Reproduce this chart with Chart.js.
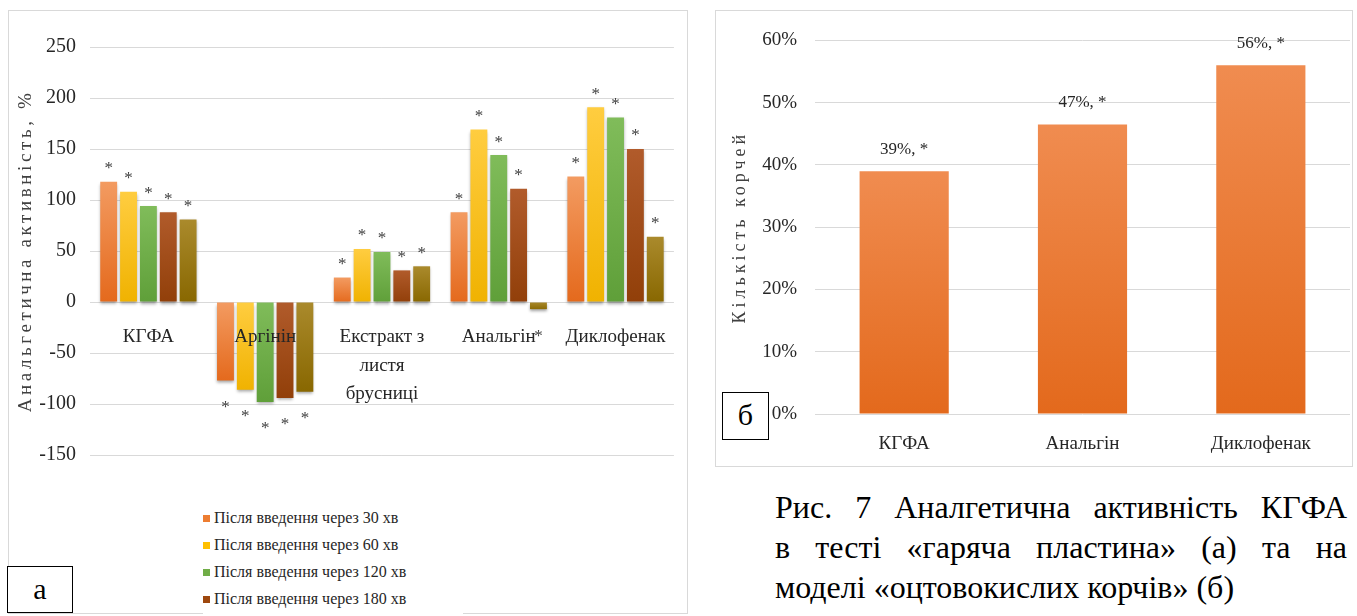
<!DOCTYPE html>
<html>
<head>
<meta charset="utf-8">
<title>Рис. 7</title>
<script src="https://cdn.jsdelivr.net/npm/chart.js@4.4.1/dist/chart.umd.min.js"></script>
<style>
  body { margin: 0; width: 1357px; height: 616px; overflow: hidden; position: relative; background: #fff;
         font-family: 'Liberation Serif', 'DejaVu Serif', serif; color: #262626; }
  .frame { position: absolute; border: 1px solid #d9d9d9; box-sizing: border-box; }
  #frameA { left: 8px; top: 10px; width: 680px; height: 604px; }
  #frameB { left: 715px; top: 10px; width: 638px; height: 457px; }
  #wrapA { position: absolute; left: 9px; top: 11px; width: 678px; height: 470px; }
  #wrapB { position: absolute; left: 716px; top: 11px; width: 636px; height: 455px; }
  #legendA { position: absolute; left: 203px; top: 504px; width: 260px; height: 140px; background: #fff; }
  .item { height: 27px; line-height: 27px; font-size: 16px; white-space: nowrap; }
  .item .box { display: inline-block; width: 7px; height: 7px; margin-right: 4px; vertical-align: 1px; }
  .tag { position: absolute; border: 1px solid #000; background: #fff; font-size: 30px; line-height: 44px;
         text-align: center; box-sizing: border-box; color: #000; }
  #caption { position: absolute; left: 775px; top: 487px; width: 572px; font-size: 32px; line-height: 40px; color: #000; }
  #caption div.j { text-align: justify; text-align-last: justify; }
</style>
</head>
<body>
<div class="frame" id="frameA"></div>
<div class="frame" id="frameB"></div>
<div id="wrapA"><canvas id="activity-chart"></canvas></div>
<div id="wrapB"><canvas id="seizure-chart"></canvas></div>
<div id="legendA"></div>
<div class="tag" style="left:7px; top:566px; width:66px; height:47px;">а</div>
<div class="tag" style="left:722px; top:392px; width:47px; height:48px;">б</div>
<div id="caption">
  <div class="j">Рис. 7 Аналгетична активність КГФА</div>
  <div class="j">в тесті «гаряча пластина» (а) та на</div>
  <div>моделі «оцтовокислих корчів» (б)</div>
</div>

<script>
// hot plate test, %
const groups = ['КГФА', 'Аргінін', ['Екстракт з', 'листя', 'брусниці'], 'Анальгін', 'Диклофенак'];
const seriesNames = [
    'Після введення через 30 хв',
    'Після введення через 60 хв',
    'Після введення через 120 хв',
    'Після введення через 180 хв',
    'Після введення через 240 хв'
];
const after30 = [118, -77, 24, 88, 123];
const after60 = [108, -86, 52, 169, 191];
const after120 = [94, -98, 49, 144, 181];
const after180 = [88, -94, 31, 111, 150];
const after240 = [81, -88, 35, -7, 64];
const activityTicks = [-150, -100, -50, 0, 50, 100, 150, 200, 250];

// acetic acid writhing test
const seizureGroups = ['КГФА', 'Анальгін', 'Диклофенак'];
const seizureShare = [0.39, 0.465, 0.56];
const seizureTicks = [0, 0.1, 0.2, 0.3, 0.4, 0.5, 0.6];

const seriesTop = ['#F39B61', '#FFCD40', '#80BC5A', '#B15B2B', '#AA8A2C'];
const seriesBottom = ['#E4691C', '#F0B200', '#5F9F39', '#913F09', '#886700'];
const seriesSolid = ['#ED7D31', '#FFC000', '#70AD47', '#9E480E', '#997300'];

const serif = "'Liberation Serif', 'DejaVu Serif', serif";
Chart.defaults.font.family = serif;
Chart.defaults.color = '#262626';

function barGradient(top, bottom) {
    return (c) => {
        const chart = c.chart;
        if (!chart.chartArea || c.type !== 'data') return top;
        const ys = chart.scales.y;
        const y1 = ys.getPixelForValue(c.raw);
        const y0 = ys.getPixelForValue(0);
        const g = chart.ctx.createLinearGradient(0, Math.min(y0, y1), 0, Math.max(y0, y1) + 1);
        g.addColorStop(0, top);
        g.addColorStop(1, bottom);
        return g;
    };
}

const sideTitle = {
    id: 'sideTitle',
    afterDraw(chart, args, opts) {
        const { ctx, chartArea } = chart;
        ctx.save();
        ctx.font = opts.font;
        ctx.fillStyle = '#404040';
        ctx.letterSpacing = opts.spacing + 'px';
        const w = ctx.measureText(opts.text).width;
        ctx.translate(opts.x, (chartArea.top + chartArea.bottom) / 2);
        ctx.rotate(-Math.PI / 2);
        ctx.textAlign = 'left';
        ctx.textBaseline = 'middle';
        ctx.fillText(opts.text, -w / 2, 0);
        ctx.restore();
    }
};

const barShadow = {
    id: 'barShadow',
    beforeDatasetDraw(chart) {
        const ctx = chart.ctx;
        ctx.save();
        ctx.shadowColor = 'rgba(0,0,0,0.35)';
        ctx.shadowBlur = 3;
        ctx.shadowOffsetY = 2;
    },
    afterDatasetDraw(chart) {
        chart.ctx.restore();
    }
};

const starLabels = {
    id: 'starLabels',
    afterDatasetsDraw(chart) {
        const ctx = chart.ctx;
        ctx.save();
        ctx.font = '17px ' + serif;
        ctx.fillStyle = '#404040';
        ctx.textAlign = 'center';
        ctx.textBaseline = 'middle';
        chart.data.datasets.forEach((ds, i) => {
            chart.getDatasetMeta(i).data.forEach((bar, j) => {
                const up = ds.data[j] >= 0;
                ctx.fillText('*', bar.x, up ? bar.y - 13 : bar.y + 27);
            });
        });
        ctx.restore();
    }
};

const shareLabels = {
    id: 'shareLabels',
    afterDatasetsDraw(chart) {
        const ctx = chart.ctx;
        ctx.save();
        ctx.font = '17px ' + serif;
        ctx.fillStyle = '#262626';
        ctx.textAlign = 'center';
        ctx.textBaseline = 'middle';
        const ds = chart.data.datasets[0];
        chart.getDatasetMeta(0).data.forEach((bar, j) => {
            ctx.fillText(Math.round(ds.data[j] * 100) + '%, *', bar.x, bar.y - 22);
        });
        ctx.restore();
    }
};

const activitySeries = [after30, after60, after120, after180, after240];

const activityChart = new Chart(document.getElementById('activity-chart'), {
    type: 'bar',
    data: {
        labels: groups,
        datasets: activitySeries.map((values, i) => ({
            label: seriesNames[i],
            data: values,
            backgroundColor: barGradient(seriesTop[i], seriesBottom[i]),
            categoryPercentage: 0.85,
            barPercentage: 0.85
        }))
    },
    options: {
        responsive: true,
        maintainAspectRatio: false,
        animation: false,
        layout: { padding: { left: 0, top: 36, right: 5, bottom: 22 } },
        plugins: {
            legend: { display: false },
            tooltip: { enabled: false },
            sideTitle: { text: 'Анальгетична активність, %', x: 17, font: '19px ' + serif, spacing: 3.6 }
        },
        scales: {
            x: {
                position: { y: 0 },
                grid: { display: false, drawTicks: false },
                border: { display: false },
                ticks: { z: 1, padding: 21, maxRotation: 0, autoSkip: false, font: { size: 19, lineHeight: 1.5 }, color: '#262626' }
            },
            y: {
                min: -150,
                max: 250,
                afterBuildTicks: s => { s.ticks = activityTicks.map(v => ({ value: v })); },
                afterFit: s => { s.width = 81; },
                grid: { color: '#d9d9d9', drawTicks: false },
                border: { display: false },
                ticks: { padding: 14, font: { size: 20 }, color: '#262626' }
            }
        }
    },
    plugins: [barShadow, starLabels, sideTitle]
});

const legendBox = document.getElementById('legendA');
activityChart.data.datasets.forEach((ds, i) => {
    const row = document.createElement('div');
    row.className = 'item';
    const box = document.createElement('span');
    box.className = 'box';
    box.style.background = seriesSolid[i];
    row.appendChild(box);
    row.appendChild(document.createTextNode(ds.label));
    legendBox.appendChild(row);
});

new Chart(document.getElementById('seizure-chart'), {
    type: 'bar',
    data: {
        labels: seizureGroups,
        datasets: [{
            label: 'Кількість корчей',
            data: seizureShare,
            backgroundColor: barGradient('#F08C50', '#E3691C'),
            categoryPercentage: 0.5,
            barPercentage: 1
        }]
    },
    options: {
        responsive: true,
        maintainAspectRatio: false,
        animation: false,
        layout: { padding: { left: 0, top: 19, right: 2, bottom: 0 } },
        plugins: {
            legend: { display: false },
            tooltip: { enabled: false },
            sideTitle: { text: 'Кількість корчей', x: 24, font: '18px ' + serif, spacing: 4 }
        },
        scales: {
            x: {
                grid: { display: false, drawTicks: false },
                border: { display: false },
                afterFit: s => { s.height = 52; },
                ticks: { padding: 19, font: { size: 19 }, color: '#262626' }
            },
            y: {
                min: 0,
                max: 0.6,
                afterBuildTicks: s => { s.ticks = seizureTicks.map(v => ({ value: v })); },
                afterFit: s => { s.width = 99; },
                grid: { color: '#d9d9d9', drawTicks: false },
                border: { display: false },
                ticks: { padding: 18, font: { size: 19 }, color: '#262626', callback: v => Math.round(v * 100) + '%' }
            }
        }
    },
    plugins: [shareLabels, sideTitle]
});
</script>
</body>
</html>
